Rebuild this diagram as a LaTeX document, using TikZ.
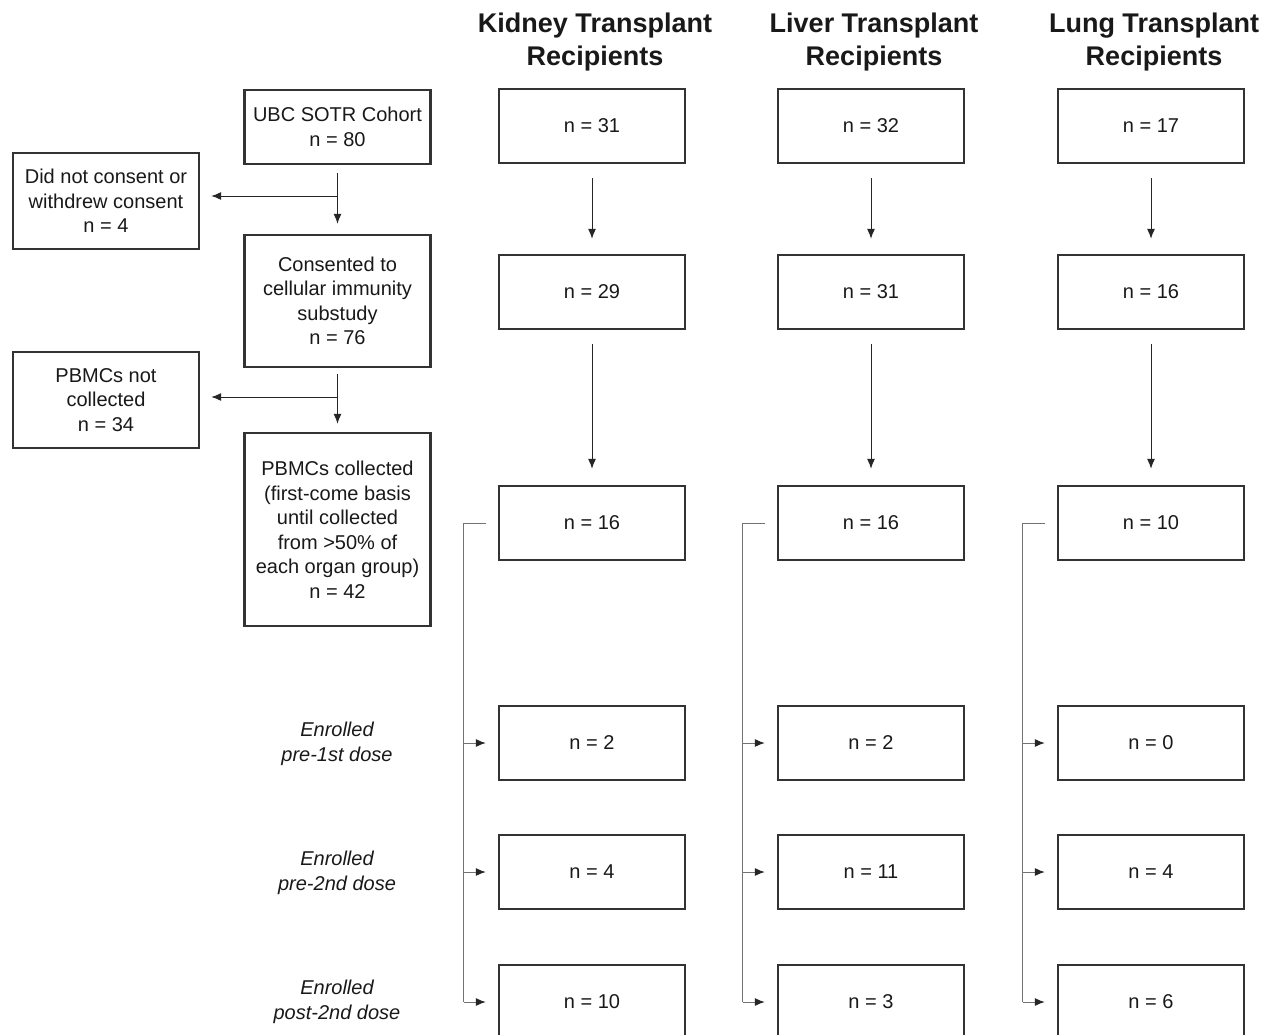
\documentclass[tikz,border=0pt]{standalone}
\usepackage{fontspec}
\setmainfont{Liberation Sans}
\usetikzlibrary{arrows.meta}
\tikzset{tip/.tip={Latex[length=10pt,width=8pt]},
  darktip/.tip={Latex[length=10pt,width=8pt,color=black!85]}}
\begin{document}
\begin{tikzpicture}[x=1pt,y=-1pt,font=\fontsize{20}{24.5}\selectfont,
  box/.style={draw=black!80,line width=2.4pt,minimum width=186pt,minimum height=74pt,align=center,inner sep=2pt,text=black!90},
  arr/.style={-tip,line width=1pt,draw=black!85},
  branch/.style={line width=1pt,draw=black!55},
  head/.style={font=\fontsize{27}{33}\selectfont\bfseries,align=center,text=black!90},
  stage/.style={font=\fontsize{20}{24.5}\selectfont\itshape,align=center,text=black!90}]
\useasboundingbox (0,0) rectangle (1265,1035);
\clip (0,0) rectangle (1265,1035);
\fill[white] (0,0) rectangle (1265,1035);
% left column
\node[box] (ubc) at (337.5,127) {UBC SOTR Cohort\\n = 80};
\node[box,minimum height=96pt] (nocons) at (106,201) {Did not consent or\\withdrew consent\\n = 4};
\node[box,minimum height=132pt] (cons) at (337.5,301) {Consented to\\cellular immunity\\substudy\\n = 76};
\node[box,minimum height=96pt] (nocol) at (106,400) {PBMCs not\\collected\\n = 34};
\node[box,minimum height=193pt] (col) at (337.5,529.5) {PBMCs collected\\(first-come basis\\until collected\\from >50\% of\\each organ group)\\n = 42};
\coordinate (j1) at (337.5,196);
\coordinate (j2) at (337.5,397);
\draw[arr,shorten <=8pt,shorten >=10pt] (ubc) -- (cons);
\draw[arr,shorten >=11pt] (j1) -- (j1 -| nocons.east);
\draw[arr,shorten <=6pt,shorten >=8pt] (cons) -- (col);
\draw[arr,shorten >=11pt] (j2) -- (j2 -| nocol.east);
% headers
\node[head] (hk) at (595,42) {Kidney Transplant\\Recipients};
\node[head] (hv) at (874,42) {Liver Transplant\\Recipients};
\node[head] (hg) at (1154,42) {Lung Transplant\\Recipients};
% kidney
\node[box] (k1) at (592,126) {n = 31};
\node[box] (k2) at (592,292) {n = 29};
\node[box] (k3) at (592,523) {n = 16};
\node[box] (k4) at (592,743) {n = 2};
\node[box] (k5) at (592,872) {n = 4};
\node[box] (k6) at (592,1002) {n = 10};
% liver
\node[box] (v1) at (871,126) {n = 32};
\node[box] (v2) at (871,292) {n = 31};
\node[box] (v3) at (871,523) {n = 16};
\node[box] (v4) at (871,743) {n = 2};
\node[box] (v5) at (871,872) {n = 11};
\node[box] (v6) at (871,1002) {n = 3};
% lung
\node[box] (g1) at (1151,126) {n = 17};
\node[box] (g2) at (1151,292) {n = 16};
\node[box] (g3) at (1151,523) {n = 10};
\node[box] (g4) at (1151,743) {n = 0};
\node[box] (g5) at (1151,872) {n = 4};
\node[box] (g6) at (1151,1002) {n = 6};
% enrolment stages
\node[stage] (s1) at (337,744) {Enrolled\\pre-1st dose};
\node[stage] (s2) at (337,873) {Enrolled\\pre-2nd dose};
\node[stage] (s3) at (337,1002) {Enrolled\\post-2nd dose};
% connectors
\foreach \c in {k,v,g} {
  \draw[arr,shorten <=14pt,shorten >=15pt] (\c1) -- (\c2);
  \draw[arr,shorten <=14pt,shorten >=16pt] (\c2) -- (\c3);
  \draw[branch] ([xshift=-12pt]\c3.west) -| ([xshift=-34pt]\c6.west);
  \foreach \r in {4,5,6}
    \draw[branch,-darktip] ([xshift=-34pt]\c\r.west) -- ([xshift=-12pt]\c\r.west);
}
\end{tikzpicture}
\end{document}
